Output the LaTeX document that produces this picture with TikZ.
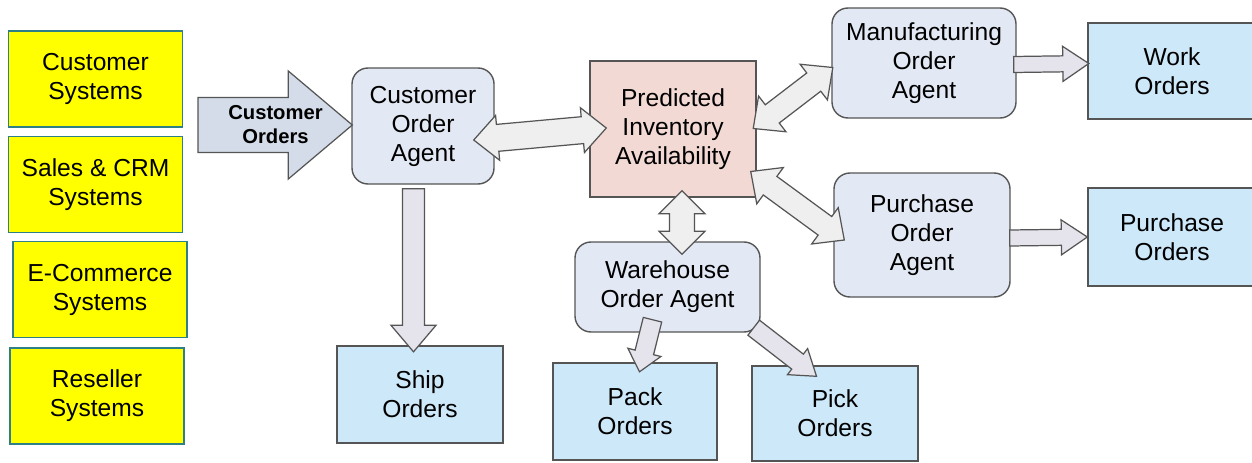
\documentclass[tikz,border=0pt]{standalone}
\usepackage{fontspec}
\setmainfont{Liberation Sans}
\usetikzlibrary{calc}
\definecolor{srcline}{HTML}{2E7F86}
\definecolor{srcfill}{HTML}{FFFF00}
\definecolor{boxline}{HTML}{555555}
\definecolor{agentfill}{HTML}{E3E9F4}
\definecolor{invfill}{HTML}{F2D9D4}
\definecolor{outfill}{HTML}{CDE8F9}
\definecolor{twofill}{HTML}{EFEFEF}
\definecolor{onefill}{HTML}{E5E3EB}
\definecolor{custfill}{HTML}{D3DCE8}

\tikzset{
  src/.style={draw=srcline, fill=srcfill, line width=1.1pt, minimum width=3.48cm, minimum height=1.92cm, align=center},
  agent/.style={draw=boxline, fill=agentfill, line width=0.8pt, rounded corners=0.32cm, align=center},
  invbox/.style={draw=boxline, fill=invfill, line width=0.8pt, minimum width=3.32cm, minimum height=2.72cm, align=center},
  outbox/.style={draw=boxline, fill=outfill, line width=0.8pt, minimum width=3.3cm, minimum height=1.92cm, align=center},
  fat/.style={draw=boxline, line width=0.7pt, line join=miter}
}

% fat single arrow: style, tail, tip, half shaft, half head, head length
\newcommand{\onearrow}[6]{%
  \coordinate (hb) at ($(#3)!#6!(#2)$);
  \draw[fat,#1] ($(#2)!#4!90:(#3)$) -- ($(hb)!#4!-90:(#2)$) -- ($(hb)!#5!-90:(#2)$) -- (#3)
    -- ($(hb)!#5!90:(#2)$) -- ($(hb)!#4!90:(#2)$) -- ($(#2)!#4!-90:(#3)$) -- cycle;}

% fat double arrow: style, end a, end b, half shaft, half head, head length
\newcommand{\twoarrow}[6]{%
  \coordinate (ha) at ($(#2)!#6!(#3)$);
  \coordinate (hb) at ($(#3)!#6!(#2)$);
  \draw[fat,#1] (#2) -- ($(ha)!#5!90:(#3)$) -- ($(ha)!#4!90:(#3)$) -- ($(hb)!#4!-90:(#2)$)
    -- ($(hb)!#5!-90:(#2)$) -- (#3) -- ($(hb)!#5!90:(#2)$) -- ($(hb)!#4!90:(#2)$)
    -- ($(ha)!#4!-90:(#3)$) -- ($(ha)!#5!-90:(#3)$) -- cycle;}

\begin{document}
\begin{tikzpicture}[font=\fontsize{14}{16.5}\selectfont]
    \useasboundingbox[fill=white] (0,0) rectangle (25.04,-9.24);

    % source systems
    \node[src] (cust) at (1.91,-1.58) {Customer\\Systems};
    \node[src] (crm) at (1.91,-3.69) {Sales \& CRM\\Systems};
    \node[src] (ecom) at (2.00,-5.79) {E-Commerce\\Systems};
    \node[src] (resell) at (1.94,-7.92) {Reseller\\Systems};

    % agents and inventory
    \node[agent, minimum width=2.84cm, minimum height=2.32cm] (coa) at (8.46,-2.52) {Customer\\Order\\Agent};
    \node[invbox] (pia) at (13.46,-2.58) {Predicted\\Inventory\\Availability};
    \node[agent, minimum width=3.7cm, minimum height=1.8cm] (woa) at (13.35,-5.74) {Warehouse\\Order Agent};
    \node[agent, minimum width=3.68cm, minimum height=2.2cm] (moa) at (18.48,-1.26) {Manufacturing\\Order\\Agent};
    \node[agent, minimum width=3.52cm, minimum height=2.48cm] (poa) at (18.44,-4.70) {Purchase\\Order\\Agent};

    % resulting orders
    \node[outbox, minimum width=3.36cm] (work) at (23.44,-1.42) {Work\\Orders};
    \node[outbox, minimum width=3.36cm, minimum height=1.96cm] (po) at (23.44,-4.74) {Purchase\\Orders};
    \node[outbox, minimum width=3.32cm, minimum height=1.94cm] (ship) at (8.40,-7.89) {Ship\\Orders};
    \node[outbox, minimum width=3.28cm, minimum height=1.94cm] (pack) at (12.70,-8.23) {Pack\\Orders};
    \node[outbox, minimum width=3.32cm, minimum height=1.9cm] (pick) at (16.70,-8.27) {Pick\\Orders};

    % arrow ends, taken from the boxes
    \coordinate (in-tail) at (3.96,-2.50);
    \coordinate (in-tip) at ($(coa.west)+(0.02,0.02)$);
    \coordinate (c-inv) at ($(coa.east)+(-0.42,-0.28)$);
    \coordinate (inv-c) at ($(pia.west)+(0.34,0.02)$);
    \coordinate (inv-w) at ($(pia.south)+(0.18,0.14)$);
    \coordinate (w-inv) at ($(woa.north)+(0.29,-0.26)$);
    \coordinate (inv-m) at ($(pia.east)+(-0.07,0.01)$);
    \coordinate (m-inv) at ($(moa.west)+(0.03,-0.09)$);
    \coordinate (inv-p) at ($(pia.east)+(-0.12,-0.85)$);
    \coordinate (p-inv) at ($(poa.west)+(0.22,-0.10)$);
    \coordinate (c-ship) at ($(coa.south)+(-0.19,-0.08)$);
    \coordinate (ship-in) at ($(ship.north)+(-0.13,-0.13)$);
    \coordinate (w-pack) at ($(woa.south)+(-0.30,0.26)$);
    \coordinate (pack-in) at ($(pack.north)+(0.09,-0.19)$);
    \coordinate (w-pick) at ($(woa.south east)+(-0.14,0.10)$);
    \coordinate (pick-in) at ($(pick.north)+(-0.37,-0.22)$);
    \coordinate (m-work) at ($(moa.east)+(-0.06,-0.03)$);
    \coordinate (work-in) at ($(work.west)+(0.03,0.15)$);
    \coordinate (p-po) at ($(poa.east)+(-0.02,-0.06)$);
    \coordinate (po-in) at (po.west);

    % fat arrows
    \onearrow{fill=custfill}{in-tail}{in-tip}{0.55cm}{1.08cm}{1.28cm}
    \node[font=\fontsize{11.5}{14}\selectfont\bfseries, align=center] (orders) at (5.51,-2.49) {Customer\\Orders};
    \twoarrow{fill=twofill}{c-inv}{inv-c}{0.27cm}{0.45cm}{0.48cm}
    \twoarrow{fill=twofill}{inv-w}{w-inv}{0.25cm}{0.46cm}{0.46cm}
    \twoarrow{fill=twofill}{inv-m}{m-inv}{0.23cm}{0.45cm}{0.48cm}
    \twoarrow{fill=twofill}{inv-p}{p-inv}{0.23cm}{0.45cm}{0.48cm}
    \onearrow{fill=onefill}{c-ship}{ship-in}{0.22cm}{0.45cm}{0.53cm}
    \onearrow{fill=onefill}{w-pack}{pack-in}{0.19cm}{0.34cm}{0.40cm}
    \onearrow{fill=onefill}{w-pick}{pick-in}{0.19cm}{0.33cm}{0.48cm}
    \onearrow{fill=onefill}{m-work}{work-in}{0.16cm}{0.35cm}{0.52cm}
    \onearrow{fill=onefill}{p-po}{po-in}{0.16cm}{0.35cm}{0.52cm}
\end{tikzpicture}
\end{document}
